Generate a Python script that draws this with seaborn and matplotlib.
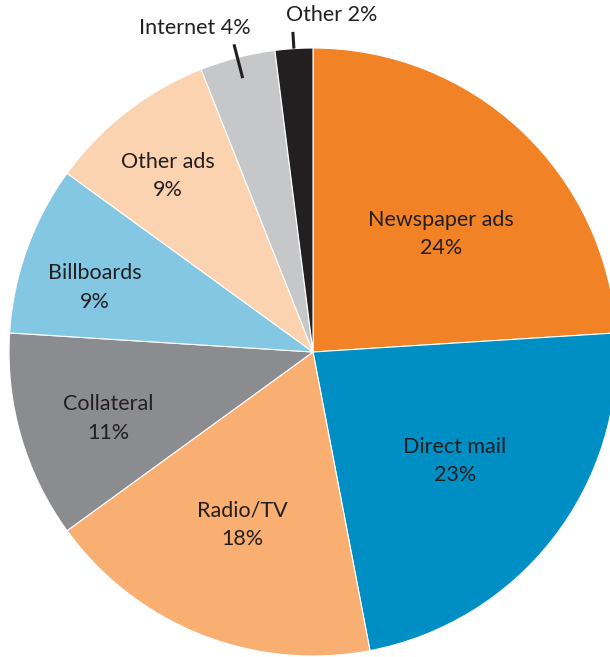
import numpy as np
import matplotlib
matplotlib.use("Agg")
import matplotlib.pyplot as plt
import seaborn as sns

# values, clockwise from 12 o'clock
labels = ["Newspaper ads", "Direct mail", "Radio/TV", "Collateral",
          "Billboards", "Other ads", "Internet", "Other"]
shares = [24, 23, 18, 11, 9, 9, 4, 2]
colors = ["#f28226", "#008fc5", "#f9ae72", "#8b8c90",
          "#83c7e3", "#fbd3b0", "#c6c7c9", "#231f20"]

# label placement: fraction of radius and angle nudge (deg); None = outside label
label_r = [0.572, 0.589, 0.615, 0.707, 0.747, 0.75, None, None]
label_da = [-4.1, 0.3, -0.7, 1.8, 3.4, 1.7, 0, 0]

sns.set_theme(style="white")
plt.rcParams["font.family"] = ["Lato", "DejaVu Sans"]

W, H = 610, 657
cx, cy, R = 313, 352, 304

fig = plt.figure(figsize=(W / 100, H / 100), dpi=100)
ax = fig.add_axes([0, 0, 1, 1])
ax.set_axis_off()

wedges, _ = ax.pie(shares, colors=colors, startangle=90, counterclock=False,
                   radius=1.0, wedgeprops=dict(edgecolor="white", linewidth=0.8))
ax.set_xlim(-cx / R, (W - cx) / R)
ax.set_ylim(-(H - cy) / R, cy / R)
ax.set_aspect("equal")

txt = "#231f20"
for w, lab, pct, r, da in zip(wedges, labels, shares, label_r, label_da):
    mid = np.deg2rad((w.theta1 + w.theta2) / 2 + da)
    if r is not None:
        ax.text(r * np.cos(mid), r * np.sin(mid), f"{lab}\n{pct}%",
                ha="center", va="center", fontsize=15.5, color=txt,
                linespacing=1.55)
    else:
        r0, r1 = (0.93, 1.045) if pct == 4 else (1.0, 1.055)
        x0, y0 = r0 * np.cos(mid), r0 * np.sin(mid)
        x1, y1 = r1 * np.cos(mid), r1 * np.sin(mid)
        ax.plot([x0, x1], [y0, y1], color=txt, lw=2.2, solid_capstyle="butt")
        dx = -0.13 if pct == 4 else 0.128
        ax.text(x1 + dx, y1 + 0.054, f"{lab} {pct}%", ha="center",
                va="center", fontsize=15.5, color=txt)

fig.savefig("out.png", dpi=100)
